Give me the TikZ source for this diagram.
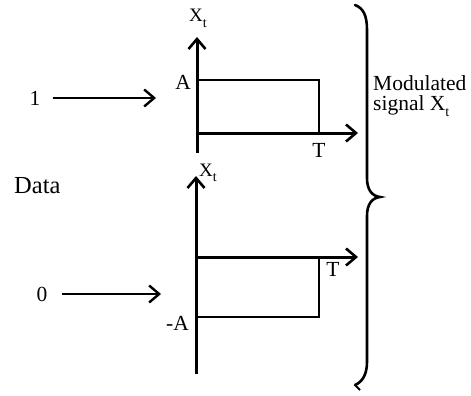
\documentclass[tikz,border=0pt]{standalone}
\usepackage{fontspec}
\setmainfont{Liberation Serif}
\usetikzlibrary{arrows.meta}
\newcommand{\mysub}[1]{\raisebox{-0.28em}{\fontsize{14}{16}\selectfont #1}}
\begin{document}
\begin{tikzpicture}[x=1pt,y=-1pt,
  axis/.style={line width=3pt,-{Straight Barb[length=10pt,width=17pt,line width=2.6pt]}},
  sig/.style={line width=2.4pt},
  inarrow/.style={line width=2.4pt,-{Straight Barb[length=10pt,width=17pt,line width=2.4pt]}},
  lab/.style={inner sep=0pt,font=\fontsize{21.5}{24}\selectfont},
  xlab/.style={inner sep=0pt,font=\fontsize{19}{20}\selectfont}]
\useasboundingbox (0,0) rectangle (471,396);
% top graph
\coordinate (o1) at (197,133);
\coordinate (b1) at (197,153);
\coordinate (y1) at (197,37);
\coordinate (t1) at (358,133);
\coordinate (a1) at (197,80);
\coordinate (r1) at (319,80);
\coordinate (s1) at (319,133);
\draw[axis] (b1) -- (y1);
\draw[axis] (o1) -- (t1);
\draw[sig] (a1) -- (r1) -- (s1);
\node[xlab,anchor=base west] (xt1) at (189,22) {X\mysub{t}};
\node[lab,anchor=base east] (A1) at (191,89) {A};
\node[lab,anchor=base] (T1) at (319,157) {T};
% bottom graph
\coordinate (o2) at (196,257);
\coordinate (b2) at (196,374);
\coordinate (y2) at (196,176);
\coordinate (t2) at (358,257);
\coordinate (a2) at (196,317);
\coordinate (r2) at (319,317);
\coordinate (s2) at (319,257);
\draw[axis] (b2) -- (y2);
\draw[axis] (o2) -- (t2);
\draw[sig] (a2) -- (r2) -- (s2);
\node[xlab,anchor=base west] (xt2) at (199,176) {X\mysub{t}};
\node[lab,anchor=base east] (A2) at (189,330) {-A};
\node[lab,anchor=base] (T2) at (333,276) {T};
% inputs
\node[lab] (one) at (35,98) {1};
\coordinate (e1) at (156,98);
\draw[inarrow] (one.east) ++(12,0) coordinate (s1a) (s1a) -- (e1);
\node[lab] (zero) at (42,294) {0};
\coordinate (e0) at (161,294);
\draw[inarrow] (zero.east) ++(14,0) coordinate (s0a) (s0a) -- (e0);
\node[inner sep=0pt,anchor=base west,font=\fontsize{24.5}{26}\selectfont] (data) at (14,193) {Data};
% brace
\coordinate (bt) at (355,5);
\coordinate (bm) at (380,197);
\coordinate (bb) at (355,385);
\draw[line width=2.6pt,line cap=round] (bt) .. controls (363,8) and (367,15) .. (367,30) -- (367,178)
  .. controls (367,190) and (372,196) .. (bm)
  .. controls (372,198) and (367,204) .. (367,216) -- (367,362)
  .. controls (367,375) and (362,382) .. (bb);
\draw[line width=1.8pt] (bb) -- ++(5,5);
\node[lab,anchor=base west] (mod) at (373,90) {Modulated};
\node[lab,anchor=base west] (sigl) at (373,110) {signal X\mysub{t}};
\end{tikzpicture}
\end{document}
